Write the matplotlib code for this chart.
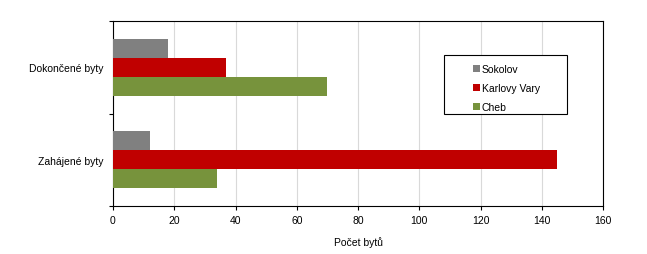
import matplotlib
matplotlib.use("Agg")
import matplotlib.pyplot as plt
from matplotlib.patches import Patch, Rectangle

categories = ["Zahájené byty", "Dokončené byty"]
series = ["Sokolov", "Karlovy Vary", "Cheb"]
sokolov = [12, 18]
karlovy_vary = [145, 37]
cheb = [34, 70]
colors = ["#808080", "#C00000", "#77933C"]
x_ticks = [0, 20, 40, 60, 80, 100, 120, 140, 160]

plt.rcParams['font.family'] = ['Liberation Sans', 'DejaVu Sans']
plt.rcParams['font.size'] = 7.5

fig = plt.figure(figsize=(6.47, 2.55), dpi=100)
ax = fig.add_axes([113 / 647, 1 - 207 / 255, 490 / 647, 185 / 255])

h = 0.207
offsets = [h, 0, -h]
for vals, off, col, name in zip([sokolov, karlovy_vary, cheb], offsets, colors, series):
    ax.barh([i + off for i in range(len(categories))], vals, height=h,
            color=col, label=name, zorder=3)

ax.set_xlim(0, 160)
ax.set_ylim(-0.5, len(categories) - 0.5)
ax.set_xticks(x_ticks)
ax.set_xticklabels([str(t) for t in x_ticks])
ax.set_yticks(range(len(categories)))
ax.set_yticklabels(categories)
ax.set_yticks([-0.5, 0.5, 1.5], minor=True)
ax.tick_params(axis='y', which='major', length=0, pad=6.5)
ax.tick_params(axis='y', which='minor', length=3, width=0.8, direction='out')
ax.tick_params(axis='x', length=3, width=0.8, pad=3.5)
ax.grid(axis='x', color='#d9d9d9', linewidth=0.8, zorder=0)
for s in ax.spines.values():
    s.set_linewidth(0.8)
    s.set_color('black')

ax.set_xlabel("Počet bytů", labelpad=8)

# legend box
fig.patches.append(Rectangle((444 / 647, 1 - 115 / 255), 123 / 647, 59 / 255,
                             transform=fig.transFigure, facecolor='white',
                             edgecolor='black', linewidth=0.8, zorder=5))
handles = [Patch(facecolor=c, label=n) for c, n in zip(colors, series)]
leg = fig.legend(handles=handles, loc='upper left',
                 bbox_to_anchor=(466 / 647, 1 - 58 / 255), frameon=False,
                 handlelength=0.6, handleheight=0.6, handletextpad=0.2,
                 labelspacing=0.85, borderpad=0.2)
leg.set_zorder(6)

fig.savefig("out.png", dpi=100)
